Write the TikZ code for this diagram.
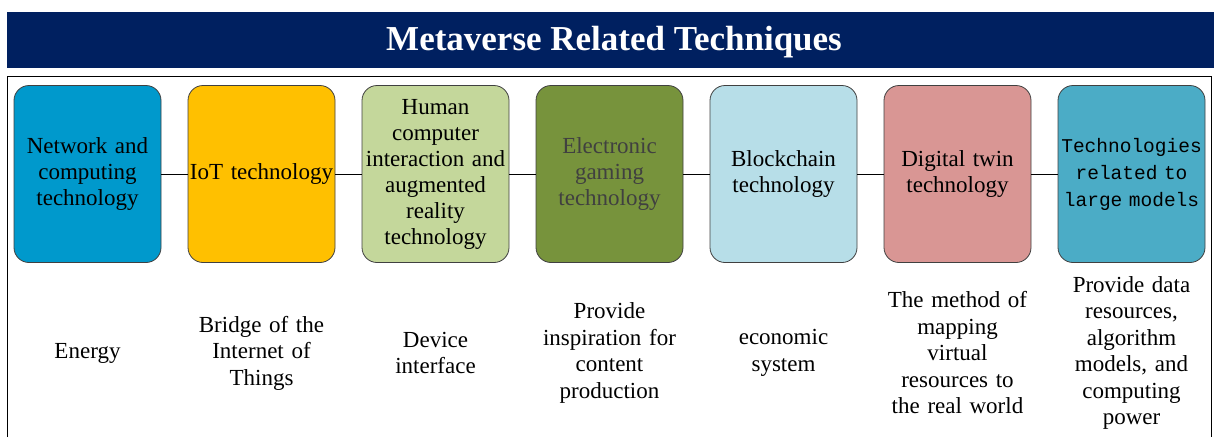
\documentclass[tikz,border=0pt]{standalone}
\usepackage{fontspec}
\setmainfont{Liberation Serif}
\newfontfamily\codefont{Liberation Mono}

\definecolor{titleblue}{HTML}{002060}
\definecolor{netblue}{HTML}{0099CC}
\definecolor{iotyellow}{HTML}{FFC000}
\definecolor{hcigreen}{HTML}{C4D79B}
\definecolor{gamegreen}{HTML}{77933C}
\definecolor{chainblue}{HTML}{B7DEE8}
\definecolor{twinred}{HTML}{D99694}
\definecolor{modelblue}{HTML}{4BACC6}

\tikzset{
    techbox/.style={draw=black!75, line width=0.8pt, rounded corners=15pt,
        minimum width=147pt, minimum height=177pt, text width=147pt,
        inner sep=0pt, align=center, font=\fontsize{23}{26}\selectfont},
    plaintext/.style={},
    gametext/.style={text=black!75},
    codetext/.style={font=\codefont\fontsize{19.5}{27}\selectfont},
    rolenote/.style={text width=160pt, inner sep=0pt, align=center,
        font=\fontsize{23}{26.5}\selectfont}
}

\begin{document}
\begin{tikzpicture}[x=1pt, y=-1pt]
\useasboundingbox (0,0) rectangle (1214,437);

% title bar
\fill[titleblue] (7,12) rectangle (1214,68);
\node[text=white, font=\bfseries\fontsize{35}{40}\selectfont] (title) at (614,42) {Metaverse Related Techniques};

% outer frame, open at the bottom
\draw[line width=1.2pt] (7.5,437) |- (1211.5,76.5) -- (1211.5,437);

% one box per technique, its role underneath
\foreach \fillc/\boxtext/\role/\txt [count=\j] in {
    netblue/{Network and\\computing\\technology}/{Energy}/plaintext,
    iotyellow/{IoT technology}/{Bridge of the\\Internet of\\Things}/plaintext,
    hcigreen/{Human\\computer\\interaction and\\augmented\\reality\\technology}/{Device\\interface}/plaintext,
    gamegreen/{Electronic\\gaming\\technology}/{Provide\\inspiration for\\content\\production}/gametext,
    chainblue/{Blockchain\\technology}/{economic\\system}/plaintext,
    twinred/{Digital twin\\technology}/{The method of\\mapping\\virtual\\resources to\\the real world}/plaintext,
    modelblue/{Technologies\\related to\\large models}/{Provide data\\resources,\\algorithm\\models, and\\computing\\power}/codetext%
}{
    \node[techbox, fill=\fillc, \txt] (box\j) at (87.5+174*\j-174, 174) {\boxtext};
    \node[rolenote] (note\j) at (87.5+174*\j-174, 353) {\role};
}

% links between neighbouring boxes
\foreach \i in {1,...,6} {
    \pgfmathtruncatemacro{\k}{\i+1}
    \draw[line width=0.8pt] (box\i.east) -- (box\k.west);
}
\end{tikzpicture}
\end{document}
